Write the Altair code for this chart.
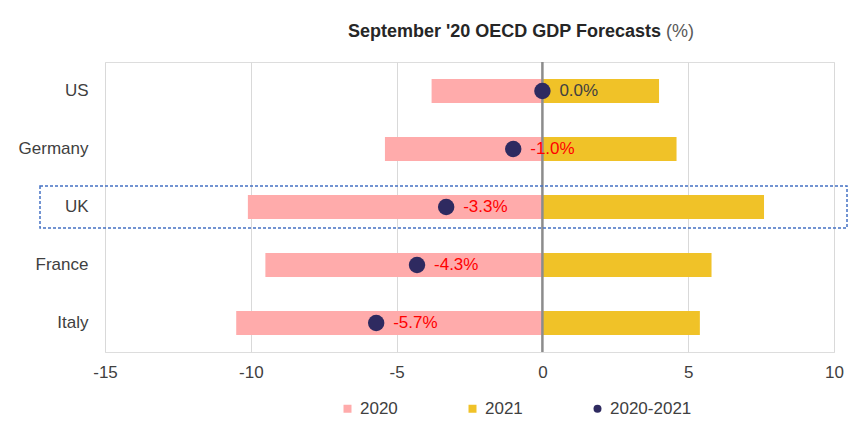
import altair as alt
import pandas as pd

countries = ["US", "Germany", "UK", "France", "Italy"]
gdp_2020 = [-3.8, -5.4, -10.1, -9.5, -10.5]
gdp_2021 = [4.0, 4.6, 7.6, 5.8, 5.4]
gdp_total = [0.0, -1.0, -3.3, -4.3, -5.7]
series_names = ["2020", "2021", "2020-2021"]
series_colors = ["#FFABAB", "#F0C228", "#2E2A60"]
series_shapes = ["square", "square", "circle"]
x_ticks = [-15, -10, -5, 0, 5, 10]
highlight_country = ["UK"]
title_main = "September '20 OECD GDP Forecasts"
title_unit = "(%)"

FONT = "Liberation Sans"

bars_df = pd.DataFrame({
    "country": countries * 2,
    "series": [series_names[0]] * len(countries) + [series_names[1]] * len(countries),
    "value": gdp_2020 + gdp_2021,
})
dots_df = pd.DataFrame({
    "country": countries,
    "series": [series_names[2]] * len(countries),
    "total": gdp_total,
})
box_df = pd.DataFrame({"country": highlight_country})
title_df = pd.DataFrame({"t": [title_main], "u": [title_unit]})

xscale = alt.Scale(domain=[x_ticks[0], x_ticks[-1]], nice=False)
yenc = alt.Y("country:N", sort=countries,
             scale=alt.Scale(paddingInner=0, paddingOuter=0),
             axis=alt.Axis(title=None, domain=False, ticks=False, grid=False,
                           labelFontSize=17, labelColor="#404040", labelFont=FONT,
                           labelPadding=17))
color_scale = alt.Scale(domain=series_names, range=series_colors)

bars = alt.Chart(bars_df).mark_bar(size=24).encode(
    y=yenc,
    x=alt.X("value:Q", scale=xscale, stack=None,
            axis=alt.Axis(values=x_ticks, title=None, grid=True, gridColor="#D9D9D9",
                          gridWidth=1, domain=False, ticks=False, labelFontSize=17,
                          labelColor="#404040", labelFont=FONT, labelPadding=12,
                          labelFlush=False, labelExpr="'' + datum.value")),
    color=alt.Color("series:N", scale=color_scale,
                    legend=alt.Legend(title=None, orient="none", direction="horizontal",
                                      legendX=234, legendY=338, padding=0,
                                      symbolSize=64, labelFontSize=17, labelFont=FONT,
                                      labelColor="#404040", labelOffset=4,
                                      columnPadding=66, symbolStrokeWidth=0)),
)

zero = alt.Chart(pd.DataFrame({"z": [0]})).mark_rule(color="#8C8C8C", strokeWidth=2.5).encode(
    x=alt.X("z:Q", scale=xscale)
)

dots = alt.Chart(dots_df).mark_point(filled=True, size=270, opacity=1).encode(
    y=alt.Y("country:N", sort=countries),
    x=alt.X("total:Q", scale=xscale),
    color=alt.Color("series:N", scale=color_scale),
    shape=alt.Shape("series:N", scale=alt.Scale(domain=series_names, range=series_shapes)),
)

labels = alt.Chart(dots_df).transform_calculate(
    label="replace(format(datum.total, '.1f'), '\u2212', '-') + '%'"
).mark_text(align="left", baseline="middle", dx=17, fontSize=17, font=FONT).encode(
    y=alt.Y("country:N", sort=countries),
    x=alt.X("total:Q", scale=xscale),
    text="label:N",
    color=alt.condition(alt.datum.total == 0, alt.value("#404040"), alt.value("#FF0000")),
)

box = alt.Chart(box_df).mark_bar(orient="horizontal", size=42, fill="transparent",
                                 stroke="#4472C4", strokeWidth=1.5,
                                 strokeDash=[3, 2]).encode(
    y=alt.Y("country:N", sort=countries),
    x=alt.value(-65),
    x2=alt.value(742),
)

title_bold = alt.Chart(title_df).mark_text(align="left", baseline="middle", fontSize=18,
                                           fontWeight="bold", font=FONT,
                                           color="#262626").encode(
    x=alt.value(243), y=alt.value(-30.5), text="t:N")
title_pct = alt.Chart(title_df).mark_text(align="left", baseline="middle", fontSize=18,
                                          font=FONT, color="#595959").encode(
    x=alt.value(561), y=alt.value(-30.5), text="u:N")

chart = alt.layer(bars, zero, dots, labels, box, title_bold, title_pct).properties(
    width=729, height=290,
    autosize=alt.AutoSizeParams(type="none"),
    padding={"left": 97, "top": 54, "right": 22, "bottom": 79},
).configure_view(stroke=None).configure(background="white")

chart.save("out.html", embed_options={"renderer": "svg", "actions": False})
